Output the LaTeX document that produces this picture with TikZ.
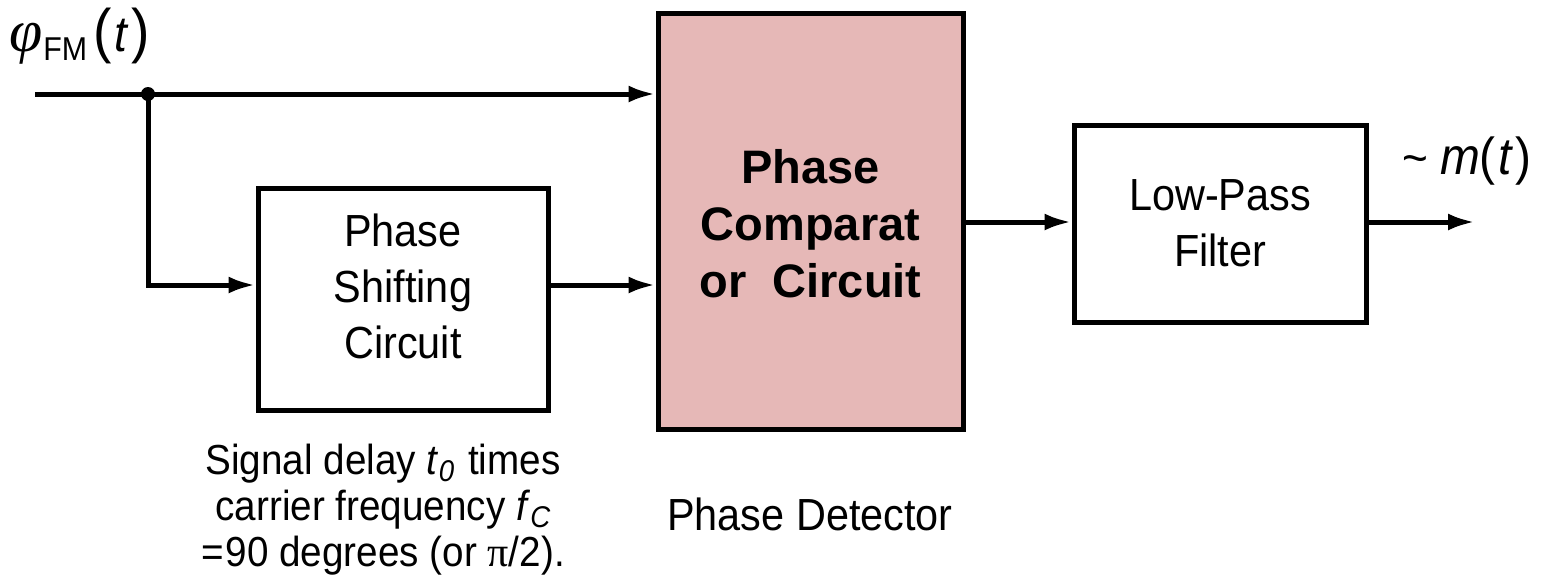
\documentclass[tikz,border=0pt]{standalone}
\usepackage{fontspec}
\setmainfont{Liberation Sans}[FakeStretch=0.92]
\newfontfamily\grk{Liberation Serif}
\newfontfamily\plainsans{Liberation Sans}
\usetikzlibrary{arrows.meta}
\definecolor{pinkfill}{HTML}{E6B8B7}
\begin{document}
\begin{tikzpicture}[x=1pt,y=-1pt,
  wire/.style={line width=5pt},
  arr/.style={wire,-{Latex[length=27pt,width=17pt]}},
  blk/.style={draw,line width=5pt,inner sep=0pt,align=center},
  txt/.style={font=\fontsize{45}{56}\selectfont,align=center,inner sep=0pt},
  btxt/.style={font=\plainsans\fontsize{47}{57}\selectfont\bfseries,align=center,inner sep=0pt},
  captxt/.style={font=\fontsize{42}{46}\selectfont,align=center,inner sep=0pt}
]
\useasboundingbox (0,0) rectangle (1551,574);
% blocks
\node[blk,minimum width=290pt,minimum height=222pt] (shift) at (403,299) {};
\node[txt] (shifttxt) at (403,286) {Phase\\Shifting\\Circuit};
\node[blk,fill=pinkfill,minimum width=305pt,minimum height=416pt] (comp) at (810.5,221) {};
\node[btxt] (comptxt) at (810.5,224) {Phase\\Comparat\\or\ \ Circuit};
\node[blk,minimum width=292pt,minimum height=197pt,txt] (lpf) at (1220,223.5) {Low-Pass\\Filter};
% coordinates
\coordinate (in) at (35,94);
\coordinate (j) at (148,94);
\coordinate (out) at (1475,222);
% connectors
\draw[arr] (in) -- (in -| comp.west);
\draw[arr] (j) |- ([yshift=14pt]shift.west);
\draw[arr] ([yshift=14pt]shift.east) -- ([yshift=14pt]shift.east -| comp.west);
\draw[arr] (comp.east |- out) -- (out -| lpf.west);
\draw[arr] (out -| lpf.east) -- (out);
\fill (j) circle (7pt);
% labels
\node[anchor=base west,inner sep=0pt] (phi) at (9,51)
  {{\grk\itshape\fontsize{60}{60}\selectfont φ}\kern1pt\raisebox{-9pt}{\fontsize{33}{33}\selectfont FM}\kern6pt{\fontsize{60}{60}\selectfont(}\kern3pt{\fontsize{50}{50}\selectfont\textit{t}}\kern3pt{\fontsize{60}{60}\selectfont)}};
\node[anchor=base west,inner sep=0pt] (mt) at (1402,174)
  {{\fontsize{48}{48}\selectfont\char"007E}\kern12pt{\fontsize{52}{52}\selectfont\textit{m}(\kern3pt\textit{t}\kern2pt)}};
\node[captxt] (caption) at (383,510)
  {Signal delay \textit{t}\raisebox{-7pt}{\fontsize{30}{30}\selectfont\itshape 0}\kern3pt\ times\\
   carrier frequency \textit{f}\raisebox{-7pt}{\fontsize{30}{30}\selectfont\itshape C}\\
   =\hspace{2pt}90 degrees (or {\grk π}/2).};
\node[anchor=base,inner sep=0pt,font=\fontsize{45}{48}\selectfont] (pd) at (810,530) {Phase Detector};
\end{tikzpicture}
\end{document}
